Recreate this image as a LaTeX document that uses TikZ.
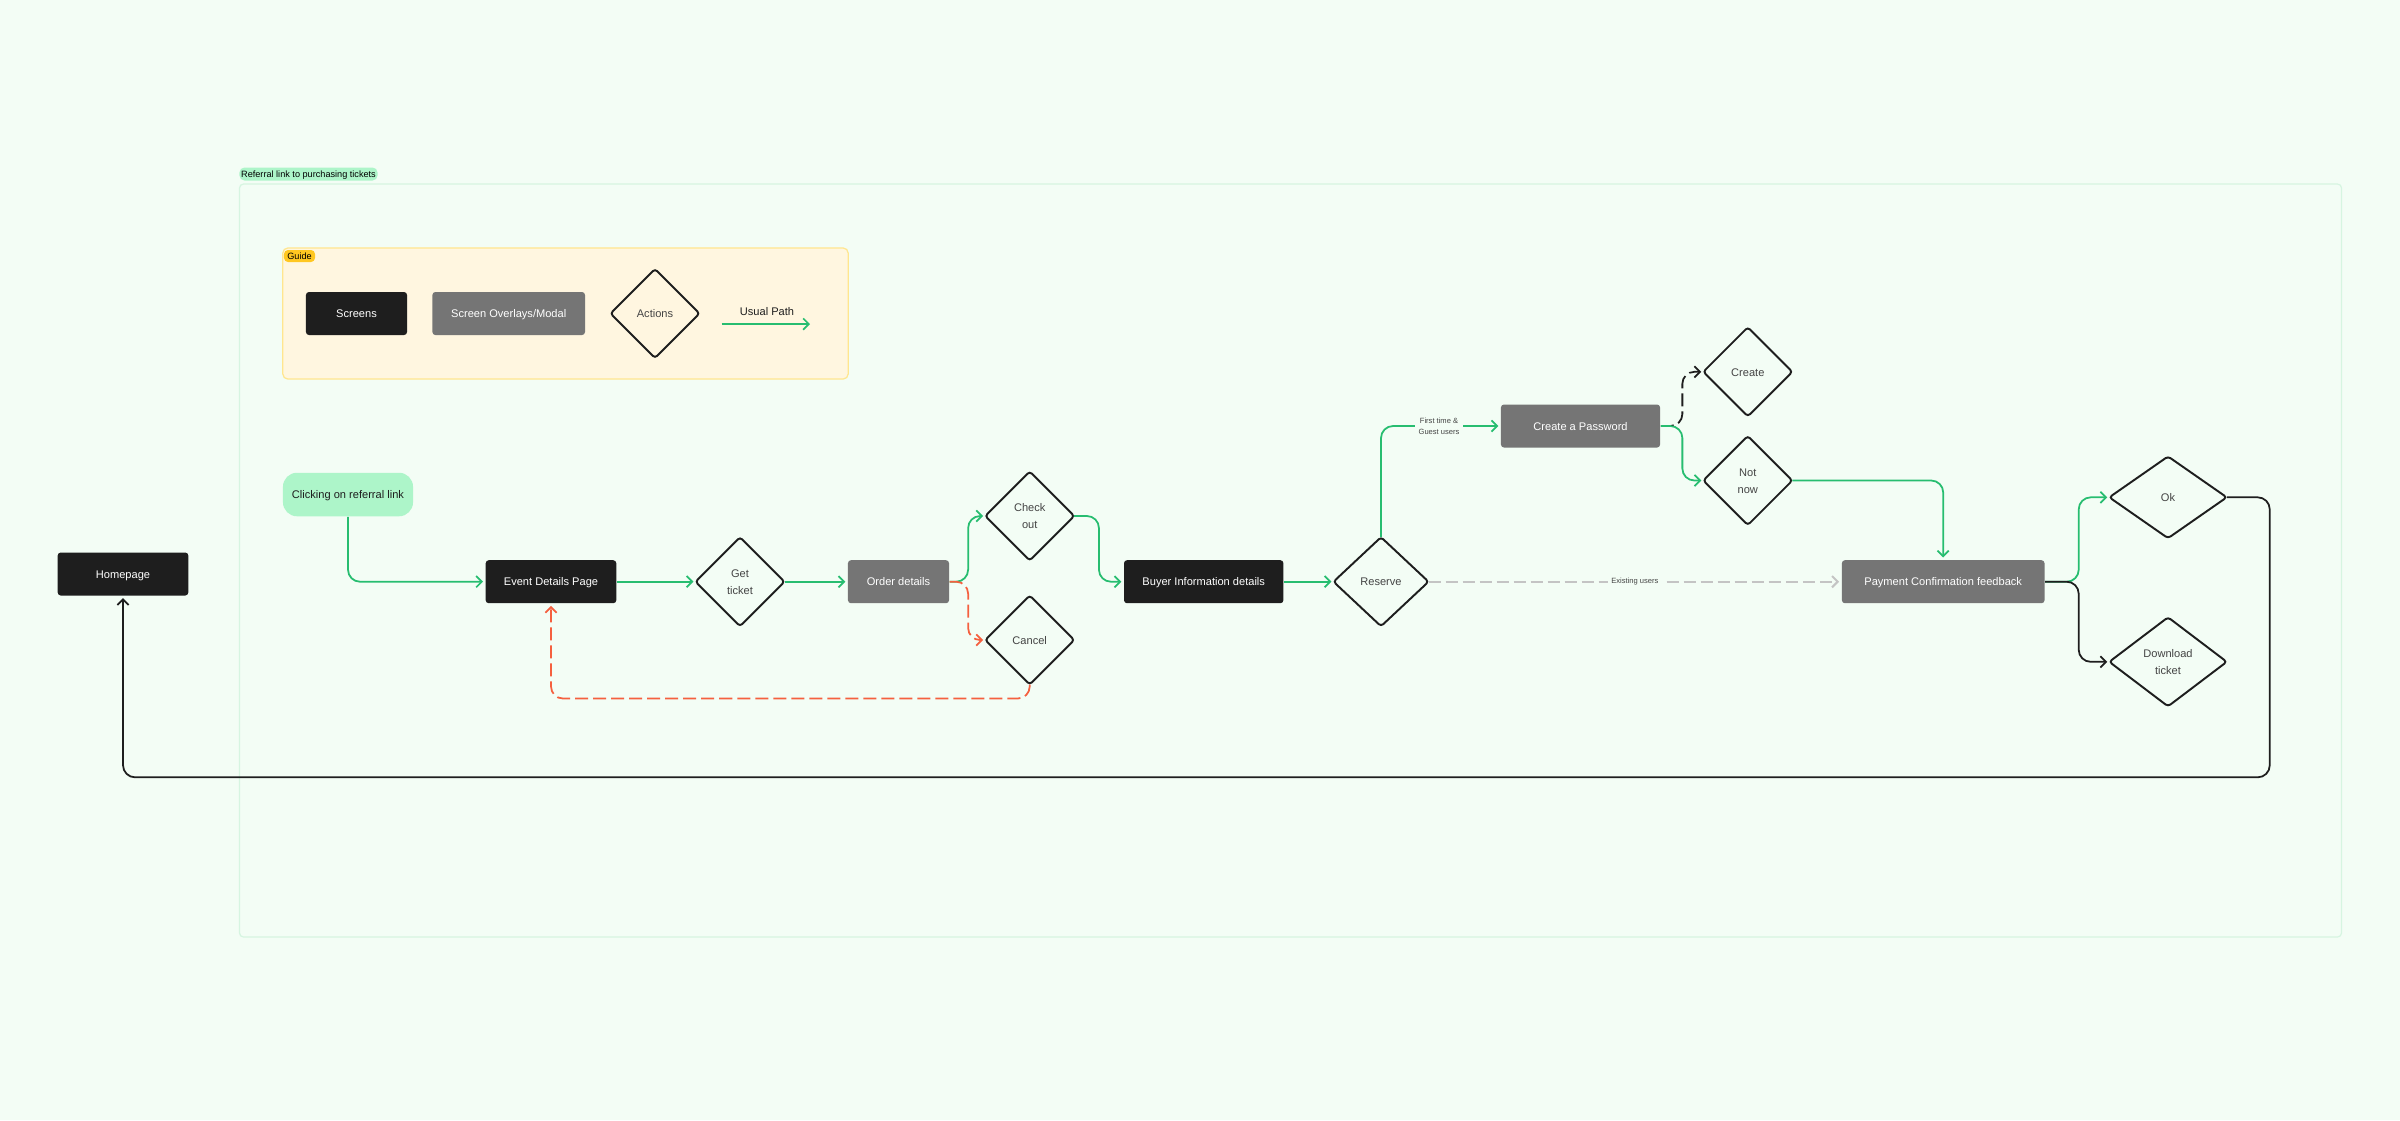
\documentclass[tikz,border=0pt]{standalone}
\usepackage{fontspec}
\setmainfont{Liberation Sans}
\usetikzlibrary{shapes.geometric,arrows.meta}
\definecolor{pagebg}{HTML}{F3FDF5}
\definecolor{framecol}{HTML}{D6F5E1}
\definecolor{mintcol}{HTML}{ADF5C9}
\definecolor{guidecol}{HTML}{FFF6E0}
\definecolor{guideline}{HTML}{FFE68F}
\definecolor{guidetag}{HTML}{FFC721}
\definecolor{darkcol}{HTML}{1E1E1E}
\definecolor{greycol}{HTML}{757575}
\definecolor{greencol}{HTML}{27BD70}
\definecolor{redcol}{HTML}{F5603F}
\definecolor{fadecol}{HTML}{C4C4C4}
\definecolor{inkcol}{HTML}{444444}
\tikzset{
  >={Straight Barb[length=1.6pt,width=3.2pt]},
  basefont/.style={font=\fontsize{3.15}{4.75}\selectfont,text height=2.9pt,text depth=0.5pt},
  screenbox/.style={basefont,rectangle,rounded corners=0.03cm,fill=darkcol,text=white,minimum height=0.43cm,inner sep=0pt},
  overlaybox/.style={screenbox,fill=greycol},
  action/.style={basefont,diamond,draw=darkcol,line width=0.55pt,rounded corners=0.03cm,text=inkcol,align=center,inner sep=0pt,outer sep=0pt,minimum width=0.89cm,minimum height=0.89cm},
  twolines/.style={text height=7.7pt},
  flow/.style={->,line width=0.5pt,rounded corners=0.12cm,shorten >=0.02cm},
  greenflow/.style={flow,draw=greencol},
  redflow/.style={flow,draw=redcol,dash pattern=on 0.13cm off 0.05cm},
  blackflow/.style={flow,draw=darkcol},
  tagfont/.style={font=\fontsize{2.6}{3}\selectfont,text height=2.2pt,text depth=0.3pt},
  tinylabel/.style={font=\fontsize{2.15}{3.2}\selectfont,text=inkcol,fill=pagebg,align=center,inner sep=1pt}
}
\begin{document}
\begin{tikzpicture}[x=0.01cm,y=-0.01cm]
\fill[pagebg] (0,0) rectangle (2400,1120);
\useasboundingbox (0,0) rectangle (2400,1120);
% outer frame and legend
\draw[framecol,line width=0.35pt,rounded corners=0.04cm] (239.5,184) rectangle (2341.5,937);
\node[tagfont,fill=mintcol,rounded corners=0.05cm,minimum width=1.38cm,minimum height=0.13cm,inner sep=0pt] (tag) at (308.5,174) {Referral link to purchasing tickets};
\node[fill=guidecol,draw=guideline,line width=0.35pt,rounded corners=0.05cm,minimum width=5.65cm,minimum height=1.31cm,inner sep=0pt] (guide) at (565.5,313.5) {};
\node[tagfont,fill=guidetag,rounded corners=0.04cm,minimum width=0.31cm,minimum height=0.12cm,inner sep=0pt] (guidetag) at (299.5,256) {Guide};
\node[screenbox,minimum width=1.01cm] (screens) at (356.5,313.5) {Screens};
\node[overlaybox,minimum width=1.525cm] (overlays) at (508.7,313.5) {Screen Overlays/Modal};
\node[action] (actions) at (655,313.5) {Actions};
\coordinate (usualstart) at (721.7,324);
\coordinate (usualend) at (812,324);
\node[basefont,text=darkcol,inner sep=0pt] (usual) at (767,311) {Usual Path};
\draw[greenflow] (usualstart) -- (usualend);
% main row
\node[basefont,fill=mintcol,rounded corners=0.14cm,minimum width=1.3cm,minimum height=0.435cm,inner sep=0pt,text=darkcol] (referral) at (348,494.5) {Clicking on referral link};
\node[screenbox,minimum width=1.305cm] (homepage) at (123,574) {Homepage};
\node[screenbox,minimum width=1.305cm] (event) at (551,581.7) {Event Details Page};
\node[action,twolines] (ticket) at (740,581.7) {Get\\ticket};
\node[overlaybox,minimum width=1.01cm] (order) at (898.5,581.7) {Order details};
\node[action,twolines] (checkout) at (1029.7,516) {Check\\out};
\node[action] (cancel) at (1029.7,640) {Cancel};
\node[screenbox,minimum width=1.593cm] (buyer) at (1203.7,581.7) {Buyer Information details};
\node[action,minimum width=0.95cm] (reserve) at (1381,581.7) {Reserve};
\node[overlaybox,minimum width=1.59cm] (password) at (1580.5,426) {Create a Password};
\node[action] (create) at (1747.8,371.8) {Create};
\node[action,twolines] (notnow) at (1747.8,480.5) {Not\\now};
\node[overlaybox,minimum width=2.025cm] (payment) at (1943.2,581.7) {Payment Confirmation feedback};
\node[action,minimum width=1.174cm,minimum height=0.817cm] (ok) at (2168,497.3) {Ok};
\node[action,twolines,minimum width=1.174cm] (download) at (2168,661.8) {Download\\ticket};
% connectors
\draw[greenflow] (referral.south) |- (event.west);
\draw[greenflow] (event.east) -- (ticket.west);
\draw[greenflow] (ticket.east) -- (order.west);
\draw[greenflow] (order.east) -- ++(18.4,0) |- (checkout.west);
\draw[redflow] (order.east) -- ++(18.4,0) |- (cancel.west);
\draw[redflow] (cancel.south) |- ++(-478.7,14) -- (event.south);
\draw[greenflow] (checkout.east) -- ++(24.7,0) |- (buyer.west);
\draw[greenflow] (buyer.east) -- (reserve.west);
\draw[greenflow] (reserve.north) |- (password.west);
\node[tinylabel] (firsttime) at (1439,426.5) {First time \&\\Guest users};
\draw[->,line width=0.6pt,draw=fadecol,dash pattern=on 0.12cm off 0.05cm,shorten >=0.02cm] (reserve.east) -- node[tinylabel] (existing) {Existing users} (payment.west);
\draw[blackflow,dash pattern=on 0.13cm off 0.05cm] (password.east) -- ++(21.6,0) |- (create.west);
\draw[greenflow] (password.east) -- ++(21.6,0) |- (notnow.west);
\draw[greenflow] (notnow.east) -| (payment.north);
\draw[greenflow] (payment.east) -- ++(33.5,0) |- (ok.west);
\draw[blackflow] (payment.east) -- ++(33.5,0) |- (download.west);
\draw[blackflow] (ok.east) -- ++(43,0) |- ++(-2146.7,280) -- (homepage.south);
\end{tikzpicture}
\end{document}
